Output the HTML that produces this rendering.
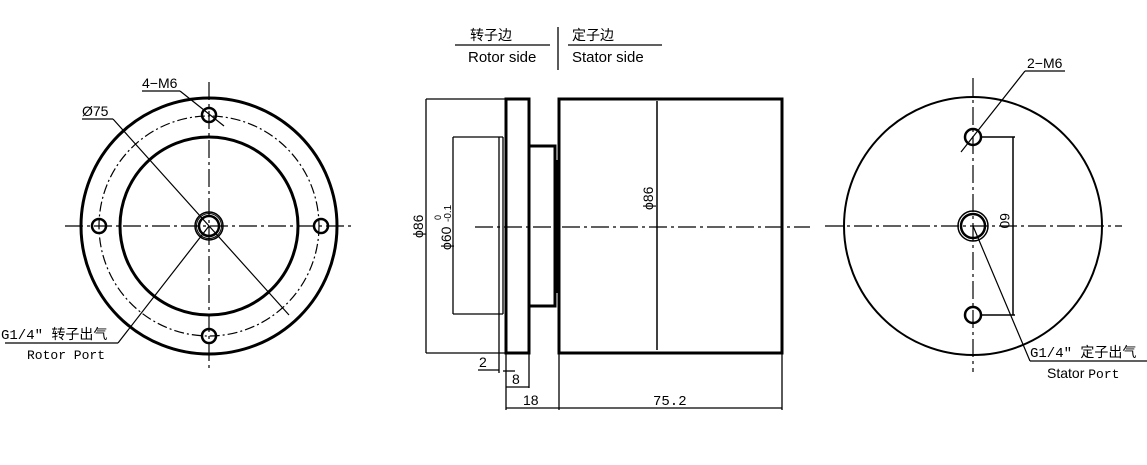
<!DOCTYPE html>
<html><head><meta charset="utf-8"><style>
html,body{margin:0;padding:0;background:#fff;width:1147px;height:465px;overflow:hidden}
svg{display:block}
text{font-family:"Liberation Sans","Noto Sans CJK SC",sans-serif;fill:#000}
.m{font-family:"Liberation Mono","Noto Sans CJK SC",monospace}
</style></head><body>
<svg width="1147" height="465" viewBox="0 0 1147 465" xmlns="http://www.w3.org/2000/svg">
<g fill="none" stroke="#000">
<!-- LEFT VIEW -->
<g stroke-width="1.2" stroke-dasharray="18,4,3,4">
<line x1="65" y1="226" x2="355" y2="226"/>
<line x1="209" y1="82" x2="209" y2="372"/>
<circle cx="209" cy="226" r="110" stroke-dasharray="10,3,2,3"/>
</g>
<circle cx="209" cy="226" r="128" stroke-width="3"/>
<circle cx="209" cy="226" r="89" stroke-width="3"/>
<g stroke-width="2.5">
<circle cx="209" cy="115" r="7"/><circle cx="209" cy="336" r="7"/>
<circle cx="99" cy="226" r="7"/><circle cx="321" cy="226" r="7"/>
<circle cx="209" cy="226" r="10"/>
</g>
<circle cx="209" cy="226" r="14" stroke-width="1.5"/>
<circle cx="209" cy="226" r="12.5" stroke-width="1"/>
<g stroke-width="1.2">
<line x1="142" y1="91" x2="180" y2="91"/><line x1="180" y1="91" x2="224" y2="126"/>
<line x1="82" y1="119" x2="113" y2="119"/><line x1="113" y1="119" x2="289" y2="315"/>
<line x1="5" y1="343" x2="118" y2="343"/><line x1="118" y1="343" x2="209" y2="226"/>
</g>
<!-- MIDDLE VIEW -->
<line x1="475" y1="227" x2="810" y2="227" stroke-width="1.2" stroke-dasharray="18,4,3,4"/>
<rect x="506" y="99" width="23" height="254" stroke-width="3"/>
<rect x="529" y="146" width="26" height="160" stroke-width="3"/>
<line x1="557" y1="160" x2="557" y2="293" stroke-width="1.5"/>
<rect x="559" y="99" width="223" height="254" stroke-width="3"/>
<g stroke-width="1.3">
<line x1="657" y1="101" x2="657" y2="350" stroke-width="1.5"/>
<line x1="426" y1="99" x2="505" y2="99"/><line x1="426" y1="353" x2="505" y2="353"/>
<line x1="426" y1="99" x2="426" y2="353"/>
<line x1="453" y1="137" x2="503" y2="137"/><line x1="453" y1="314" x2="503" y2="314"/>
<line x1="453" y1="137" x2="453" y2="314"/>
<line x1="499" y1="137" x2="499" y2="373"/><line x1="503" y1="137" x2="503" y2="314"/>
<line x1="478" y1="370" x2="499" y2="370"/><line x1="503" y1="371" x2="515" y2="371"/>
<line x1="506" y1="353" x2="506" y2="410"/><line x1="529" y1="353" x2="529" y2="388"/>
<line x1="506" y1="387" x2="529" y2="387"/>
<line x1="559" y1="353" x2="559" y2="410"/><line x1="782" y1="353" x2="782" y2="410"/>
<line x1="506" y1="408" x2="782" y2="408"/>
<line x1="455" y1="45" x2="550" y2="45"/><line x1="568" y1="45" x2="662" y2="45"/>
<line x1="558" y1="27" x2="558" y2="70"/>
</g>
<!-- RIGHT VIEW -->
<g stroke-width="1.2" stroke-dasharray="18,4,3,4">
<line x1="825" y1="226" x2="1122" y2="226"/>
<line x1="973" y1="78" x2="973" y2="372"/>
</g>
<circle cx="973" cy="226" r="129" stroke-width="2"/>
<g stroke-width="2.5">
<circle cx="973" cy="137" r="8"/><circle cx="973" cy="315" r="8"/>
<circle cx="973" cy="226" r="12"/>
</g>
<circle cx="973" cy="226" r="15" stroke-width="1.5"/>
<g stroke-width="1.2">
<line x1="981" y1="137" x2="1015" y2="137" stroke-width="1.5"/><line x1="981" y1="315" x2="1015" y2="315" stroke-width="1.5"/>
<line x1="1013" y1="137" x2="1013" y2="315" stroke-width="1.5"/>
<line x1="1025" y1="71" x2="1065" y2="71"/><line x1="1025" y1="71" x2="961" y2="152"/>
<line x1="1030" y1="361" x2="1147" y2="361"/><line x1="1030" y1="361" x2="973" y2="226"/>
</g>
</g>
<!-- TEXT -->
<text x="142" y="88" font-size="14">4−M6</text>
<text x="82" y="116" font-size="14">Ø75</text>
<text x="1" y="339" font-size="14" class="m">G1/4″ 转子出气</text>
<text x="27" y="359" font-size="13" class="m">Rotor Port</text>
<text x="470" y="40" font-size="14">转子边</text>
<text x="468" y="62" font-size="15">Rotor side</text>
<text x="572" y="40" font-size="14">定子边</text>
<text x="572" y="62" font-size="15">Stator side</text>
<text transform="translate(423,238) rotate(-90)" font-size="14">ϕ86</text>
<text transform="translate(451,250) rotate(-90)" font-size="14">ϕ60</text>
<text transform="translate(441,220) rotate(-90)" font-size="9">0</text>
<text transform="translate(451,222) rotate(-90)" font-size="10">-0.1</text>
<text transform="translate(653,210) rotate(-90)" font-size="14">ϕ86</text>
<text x="479" y="367" font-size="14">2</text>
<text x="512" y="384" font-size="14">8</text>
<text x="523" y="405" font-size="14">18</text>
<text x="653" y="405" font-size="14" class="m">75.2</text>
<text transform="translate(1000,213) rotate(90)" font-size="14">60</text>
<text x="1027" y="68" font-size="14">2−M6</text>
<text x="1030" y="357" font-size="14" class="m">G1/4″ 定子出气</text>
<text x="1047" y="378" font-size="14">Stator <tspan class="m" font-size="13">Port</tspan></text>
</svg>
</body></html>
